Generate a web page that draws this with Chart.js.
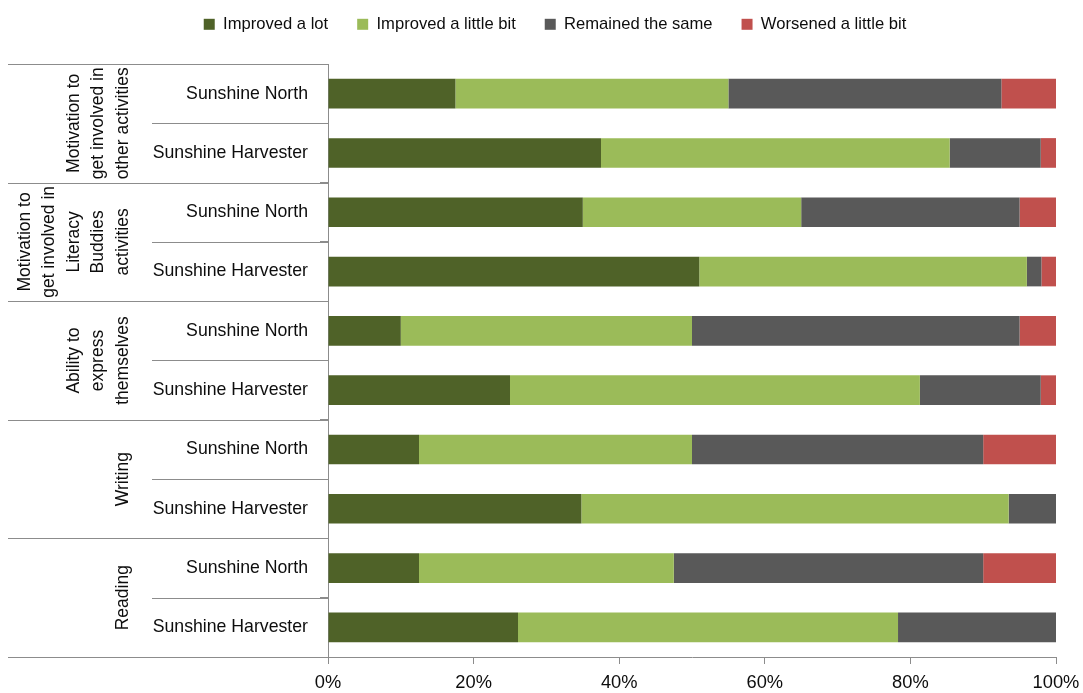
<!DOCTYPE html>
<html>
<head>
<meta charset="utf-8">
<script src="https://cdn.jsdelivr.net/npm/chart.js@4/dist/chart.umd.min.js"></script>
<style>
  html, body { margin: 0; padding: 0; background: #ffffff; }
  #wrap { width: 1083px; height: 693px; }
</style>
</head>
<body>
<div id="wrap"><canvas id="c" width="1083" height="693"></canvas></div>
<script>
// ---- data ----
const groups = [
  ["Motivation to", "get involved in", "other activities"],
  ["Motivation to", "get involved in", "Literacy", "Buddies", "activities"],
  ["Ability to", "express", "themselves"],
  ["Writing"],
  ["Reading"]
];
const barLabels = [
  "Sunshine North", "Sunshine Harvester",
  "Sunshine North", "Sunshine Harvester",
  "Sunshine North", "Sunshine Harvester",
  "Sunshine North", "Sunshine Harvester",
  "Sunshine North", "Sunshine Harvester"
];
const seriesNames = ["Improved a lot", "Improved a little bit", "Remained the same", "Worsened a little bit"];
const improvedLot    = [17.5, 37.5, 35, 51, 10, 25.0, 12.5, 34.8, 12.5, 26.1];
const improvedLittle = [37.5, 47.9, 30, 45, 40, 56.3, 37.5, 58.7, 35.0, 52.2];
const remainedSame   = [37.5, 12.5, 30,  2, 45, 16.6, 40.0,  6.5, 42.5, 21.7];
const worsenedLittle = [ 7.5,  2.1,  5,  2,  5,  2.1, 10.0,  0.0, 10.0,  0.0];
const xTicks = [0, 20, 40, 60, 80, 100];

const colors = ["#4F6228", "#9BBB59", "#595959", "#C0504D"];
const FONT = "'Liberation Sans', Arial, sans-serif";
const LINE = "#8c8c8c";
const TXT = "#0d0d0d";

const seriesData = [improvedLot, improvedLittle, remainedSame, worsenedLittle];

const leftLabels = {
  id: 'leftLabels',
  afterDraw(chart) {
    const ctx = chart.ctx;
    const y = chart.scales.y;
    const left = chart.chartArea.left;
    const step = y.getPixelForValue(1) - y.getPixelForValue(0);
    const bnd = i => y.getPixelForValue(0) - step / 2 + i * step;
    ctx.save();
    ctx.strokeStyle = LINE;
    ctx.lineWidth = 1;
    for (let i = 0; i <= barLabels.length; i++) {
      const yy = Math.round(bnd(i)) + 0.5;
      const x0 = (i % 2 === 0) ? 8 : 152;
      ctx.beginPath();
      ctx.moveTo(x0, yy);
      ctx.lineTo(left, yy);
      ctx.stroke();
    }
    ctx.fillStyle = TXT;
    ctx.font = "17.5px " + FONT;
    ctx.textAlign = 'center';
    ctx.textBaseline = 'middle';
    const lh = 24.5;
    groups.forEach((lines, g) => {
      const cy = (bnd(g * 2) + bnd(g * 2 + 2)) / 2;
      const n = lines.length;
      lines.forEach((t, k) => {
        const lx = 123 - lh * (n - 1 - k);
        ctx.save();
        ctx.translate(lx, cy);
        ctx.rotate(-Math.PI / 2);
        ctx.fillText(t, 0, 0);
        ctx.restore();
      });
    });
    ctx.restore();
  }
};

const legendTweak = {
  id: 'legendTweak',
  beforeInit(chart) {
    const lg = chart.legend;
    if (!lg) return;
    const origFit = lg.fit;
    lg.fit = function () { origFit.call(this); this.height = 64; };
    const origDraw = lg.draw;
    lg.draw = function () {
      const ctx = this.ctx;
      ctx.save();
      ctx.translate(27, -13);
      origDraw.apply(this, arguments);
      ctx.restore();
    };
  }
};

new Chart(document.getElementById('c'), {
  type: 'bar',
  data: {
    labels: barLabels,
    datasets: seriesNames.map((n, i) => ({
      label: n,
      data: seriesData[i],
      backgroundColor: colors[i],
      borderWidth: 0,
      categoryPercentage: 1.0,
      barPercentage: 0.5
    }))
  },
  options: {
    indexAxis: 'y',
    responsive: false,
    animation: false,
    devicePixelRatio: 1,
    layout: { padding: { left: 0, right: 27, top: 0, bottom: 0 } },
    plugins: {
      legend: {
        position: 'top',
        align: 'center',
        labels: {
          boxWidth: 11, boxHeight: 11, padding: 29,
          color: TXT,
          font: { family: FONT, size: 16.6 }
        }
      },
      tooltip: { enabled: false }
    },
    scales: {
      x: {
        stacked: true,
        min: 0, max: 100,
        afterBuildTicks(scale) { scale.ticks = xTicks.map(v => ({ value: v })); },
        afterFit(scale) { scale.height = 36; scale.paddingRight = 0; scale.paddingLeft = 0; },
        ticks: {
          color: TXT,
          font: { family: FONT, size: 18.3 },
          padding: 8,
          maxRotation: 0,
          callback: v => v + '%'
        },
        grid: { display: true, drawOnChartArea: false, drawTicks: true, tickLength: 7, color: LINE },
        border: { display: true, color: LINE }
      },
      y: {
        stacked: true,
        afterFit(scale) { scale.width = 328; },
        ticks: {
          color: TXT,
          font: { family: FONT, size: 17.7 },
          padding: 12
        },
        grid: { display: true, drawOnChartArea: false, drawTicks: true, tickLength: 8, color: LINE, offset: true },
        border: { display: true, color: LINE }
      }
    }
  },
  plugins: [legendTweak, leftLabels]
});
</script>
</body>
</html>
